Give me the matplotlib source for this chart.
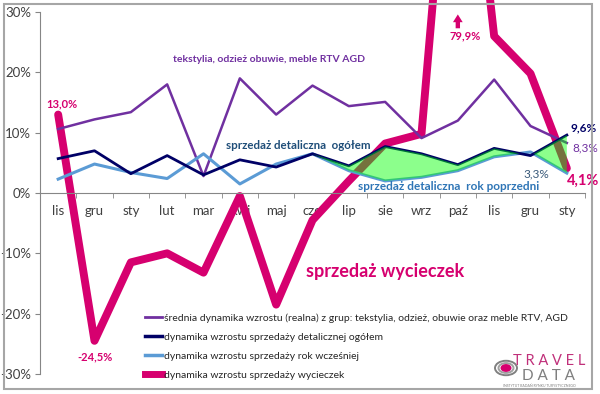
import matplotlib
matplotlib.use('Agg')
import matplotlib.pyplot as plt
from matplotlib.lines import Line2D
from matplotlib.patches import Rectangle, Circle, FancyArrowPatch
import numpy as np

months = ['lis', 'gru', 'sty', 'lut', 'mar', 'kwi', 'maj', 'cze', 'lip', 'sie',
          'wrz', 'paź', 'lis', 'gru', 'sty']
tekstylia = [10.6, 12.2, 13.4, 18.0, 2.8, 19.0, 13.0, 17.8, 14.4, 15.1, 9.1, 12.0, 18.8, 11.1, 8.3]
ogolem = [5.7, 7.0, 3.2, 6.2, 3.0, 5.5, 4.3, 6.5, 4.5, 7.7, 6.5, 4.7, 7.4, 6.2, 9.6]
rok_poprzedni = [2.3, 4.8, 3.4, 2.4, 6.5, 1.5, 4.8, 6.5, 3.7, 2.0, 2.6, 3.7, 6.0, 6.8, 3.3]
wycieczki = [13.0, -24.5, -11.5, -10.0, -13.2, -0.5, -18.5, -4.5, 2.0, 8.2, 9.8, 79.9, 26.0, 19.8, 4.1]
yticks = [-30, -20, -10, 0, 10, 20, 30]
legend_labels = [
    'średnia dynamika wzrostu (realna) z grup: tekstylia, odzież, obuwie oraz meble RTV, AGD',
    'dynamika wzrostu sprzedaży detalicznej ogółem',
    'dynamika wzrostu sprzedaży rok wcześniej',
    'dynamika wzrostu sprzedaży wycieczek',
]

PURPLE = '#7030A0'
NAVY = '#000066'
LBLUE = '#5B9BD5'
PINK = '#D6006F'

plt.rcParams['font.family'] = ['Lato', 'DejaVu Sans']

W, H = 600, 394
fig = plt.figure(figsize=(6, 3.94), dpi=100)


def fx(px):
    return px / W


def fy(py):
    return 1 - py / H


ax = fig.add_axes([fx(40), fy(374), fx(585) - fx(40), fy(12) - fy(374)])
x = np.arange(len(months))

ax.plot(x, wycieczki, color=PINK, lw=5.7, solid_joinstyle='round',
        solid_capstyle='round', clip_on=False, zorder=2)
ax.plot(x, tekstylia, color=PURPLE, lw=1.8, zorder=3)
ax.plot(x, rok_poprzedni, color=LBLUE, lw=2.2, zorder=3)
ax.plot(x, ogolem, color=NAVY, lw=2.0, zorder=3)

og = np.array(ogolem)
rp = np.array(rok_poprzedni)
ax.fill_between(x[7:], og[7:], rp[7:], where=og[7:] >= rp[7:], interpolate=True,
                color='#00FF00', alpha=0.45, lw=0, zorder=4)

ax.set_xlim(-0.5, len(months) - 0.5)
ax.set_ylim(-30, 30)
ax.set_yticks(yticks)
ax.set_yticklabels([f'{v}%' for v in yticks])
ax.set_xticks(x)
ax.set_xticklabels(months)
ax.set_xticks(np.arange(-0.5, len(months), 1), minor=True)

for s in ['top', 'right']:
    ax.spines[s].set_visible(False)
ax.spines['bottom'].set_position(('data', 0))
ax.spines['left'].set_color('#868686')
ax.spines['bottom'].set_color('#868686')
ax.tick_params(axis='x', which='major', length=0, pad=9, labelsize=9.5, labelcolor='#404040')
ax.tick_params(axis='x', which='minor', length=3.5, color='#868686', direction='out')
ax.tick_params(axis='y', length=3.5, color='#868686', labelsize=9.5, labelcolor='#404040', pad=3)
ax.patch.set_alpha(0)

# annotations
ax.text(0.1, 14.8, '13,0%', color=PINK, fontsize=8, fontweight='bold', ha='center', va='center')
ax.text(1.0, -27.2, '-24,5%', color=PINK, fontsize=8, fontweight='bold', ha='center', va='center')
ax.text(11.2, 26.0, '79,9%', color=PINK, fontsize=8, fontweight='bold', ha='center', va='center')
ax.add_patch(FancyArrowPatch((11.0, 27.3), (11.0, 29.6),
                             arrowstyle='simple,head_width=1.0,head_length=0.8,tail_width=0.45',
                             mutation_scale=7, color=PINK, lw=0, clip_on=False,
                             shrinkA=0, shrinkB=0))
ax.text(14.45, 10.8, '9,6%', color=NAVY, fontsize=8.5, fontweight='bold', ha='center', va='center')
ax.text(14.5, 7.5, '8,3%', color=PURPLE, fontsize=8.5, ha='center', va='center')
ax.text(13.15, 3.2, '3,3%', color='#3A5A7A', fontsize=8.5, ha='center', va='center')
ax.text(14.45, 2.0, '4,1%', color=PINK, fontsize=10.5, fontweight='bold', ha='center', va='center')

ax.text(5.8, 22.2, 'tekstylia, odzież obuwie, meble RTV AGD', color=PURPLE, fontsize=7.5,
        fontweight='bold', ha='center', va='center')
ax.text(6.6, 7.9, 'sprzedaż detaliczna  ogółem', color='#1F4E79', fontsize=8.3,
        fontweight='bold', ha='center', va='center')
ax.text(10.75, 1.0, 'sprzedaż detaliczna  rok poprzedni', color='#2E75B6', fontsize=8.5,
        fontweight='bold', ha='center', va='center')
ax.text(9.0, -13.0, 'sprzedaż wycieczek', color=PINK, fontsize=13,
        fontweight='bold', ha='center', va='center')

# legend
handles = [Line2D([], [], color=PURPLE, lw=2.0),
           Line2D([], [], color=NAVY, lw=2.5),
           Line2D([], [], color=LBLUE, lw=2.5),
           Line2D([], [], color=PINK, lw=5.0)]
fig.legend(handles, legend_labels, loc='upper left', bbox_to_anchor=(fx(145), fy(313)),
           frameon=False, fontsize=7.5, handlelength=1.65, handletextpad=0.15,
           labelspacing=0.95, borderpad=0, borderaxespad=0, labelcolor='#262626')

# frame
fig.add_artist(Rectangle((fx(4), fy(389)), fx(592) - fx(4), fy(4) - fy(389),
                         transform=fig.transFigure, fill=False, edgecolor='#A6A6A6', lw=1.5))

# logo
for r, c in [(11, '#808080'), (7.5, '#A0A0A0'), (4.5, PINK)]:
    fig.add_artist(Circle((fx(506), fy(368)), r / W, transform=fig.transFigure,
                          fill=(c == PINK), facecolor=c, edgecolor=c, lw=1.4))
fig.text(fx(549), fy(361), 'T R A V E L', color='#C0307A', fontsize=10.5, ha='center', va='center')
fig.text(fx(548), fy(376), 'D A T A', color='#7F7F7F', fontsize=11, ha='center', va='center')
fig.text(fx(539), fy(386), 'INSTYTUT BADAŃ RYNKU TURYSTYCZNEGO', color='#7F7F7F',
         fontsize=2.5, ha='center', va='center')

fig.savefig('out.png', dpi=100)
